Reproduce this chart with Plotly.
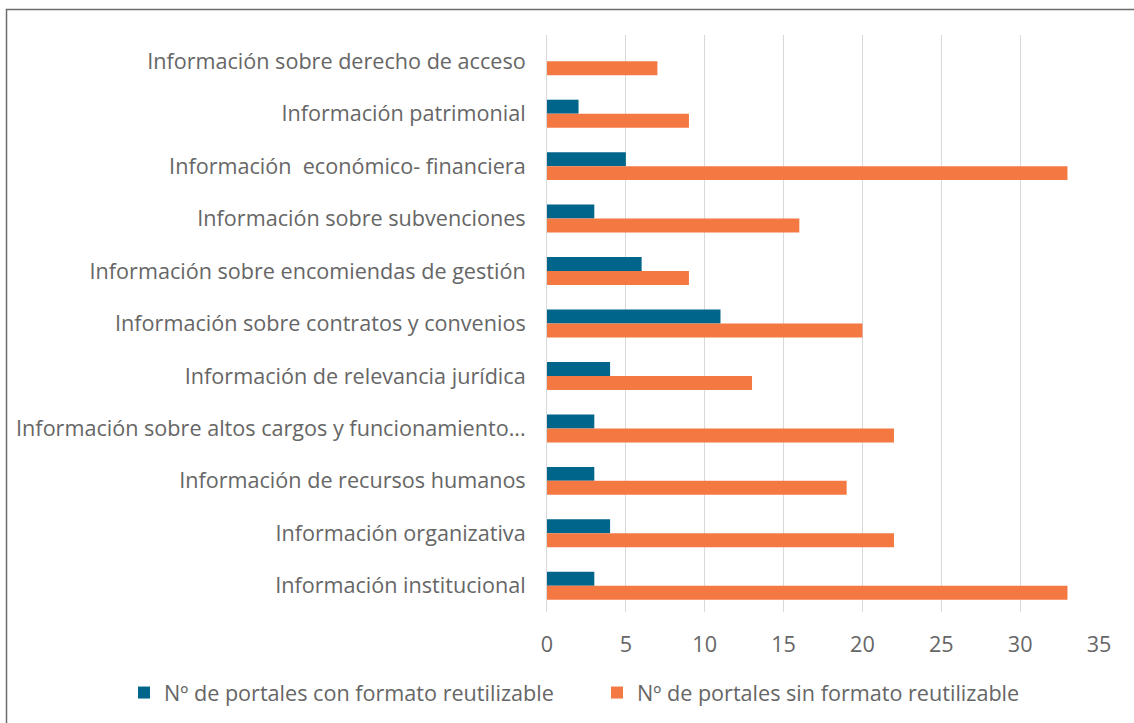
import plotly.graph_objects as go

categories = [
    "Información sobre derecho de acceso",
    "Información patrimonial",
    "Información  económico- financiera",
    "Información sobre subvenciones",
    "Información sobre encomiendas de gestión",
    "Información sobre contratos y convenios",
    "Información de relevancia jurídica",
    "Información sobre altos cargos y funcionamiento...",
    "Información de recursos humanos",
    "Información organizativa",
    "Información institucional",
]
con_formato = [0, 2, 5, 3, 6, 11, 4, 3, 3, 4, 3]
sin_formato = [7, 9, 33, 16, 9, 20, 13, 22, 19, 22, 33]
series_names = [
    "Nº de portales con formato reutilizable",
    "Nº de portales sin formato reutilizable",
]
x_ticks = [0, 5, 10, 15, 20, 25, 30, 35]

W, H = 1134, 723
L, R, T, B = 547, 35, 35, 111
pw, ph = W - L - R, H - T - B

fig = go.Figure()
fig.add_trace(go.Bar(y=categories, x=con_formato, orientation="h",
                     name=series_names[0], marker=dict(color="#00658A", line=dict(width=0))))
fig.add_trace(go.Bar(y=categories, x=sin_formato, orientation="h",
                     name=series_names[1], marker=dict(color="#F47842", line=dict(width=0))))

font = "'Open Sans', sans-serif"
txt = "#666666"
fs = 21.6

def px_x(p):
    return (p - L) / pw

def px_y(p):
    return (H - B - p) / ph

fig.update_layout(
    width=W, height=H,
    margin=dict(l=L, r=R, t=T, b=B, autoexpand=False),
    plot_bgcolor="white", paper_bgcolor="white",
    barmode="group", bargap=0.467, bargroupgap=0,
    font=dict(family=font, size=fs, color=txt),
    xaxis=dict(range=[0, 35], tickvals=x_ticks, showgrid=True, gridcolor="#D9D9D9",
               gridwidth=1, zeroline=False, showline=False, ticks="",
               ticklabelstandoff=17, tickfont=dict(size=fs, color=txt)),
    yaxis=dict(autorange="reversed", showgrid=False, zeroline=False,
               showline=True, linecolor="#D9D9D9", linewidth=1, ticks="",
               ticklabelstandoff=16, tickfont=dict(size=fs, color=txt)),
    legend=dict(orientation="h", x=px_x(124), xanchor="left",
                y=px_y(693), yanchor="middle", font=dict(size=fs, color=txt),
                itemwidth=30, entrywidth=428, traceorder="normal"),
    showlegend=True,
    shapes=[dict(type="rect", xref="paper", yref="paper",
                 x0=px_x(6.5), x1=px_x(1200), y0=px_y(800), y1=px_y(9.5),
                 line=dict(color="#6b6b6b", width=1.5), fillcolor="rgba(0,0,0,0)",
                 layer="below")],
)

fig.write_html("out.html", config={"displayModeBar": False},
               post_script="document.body.style.margin='0';")
